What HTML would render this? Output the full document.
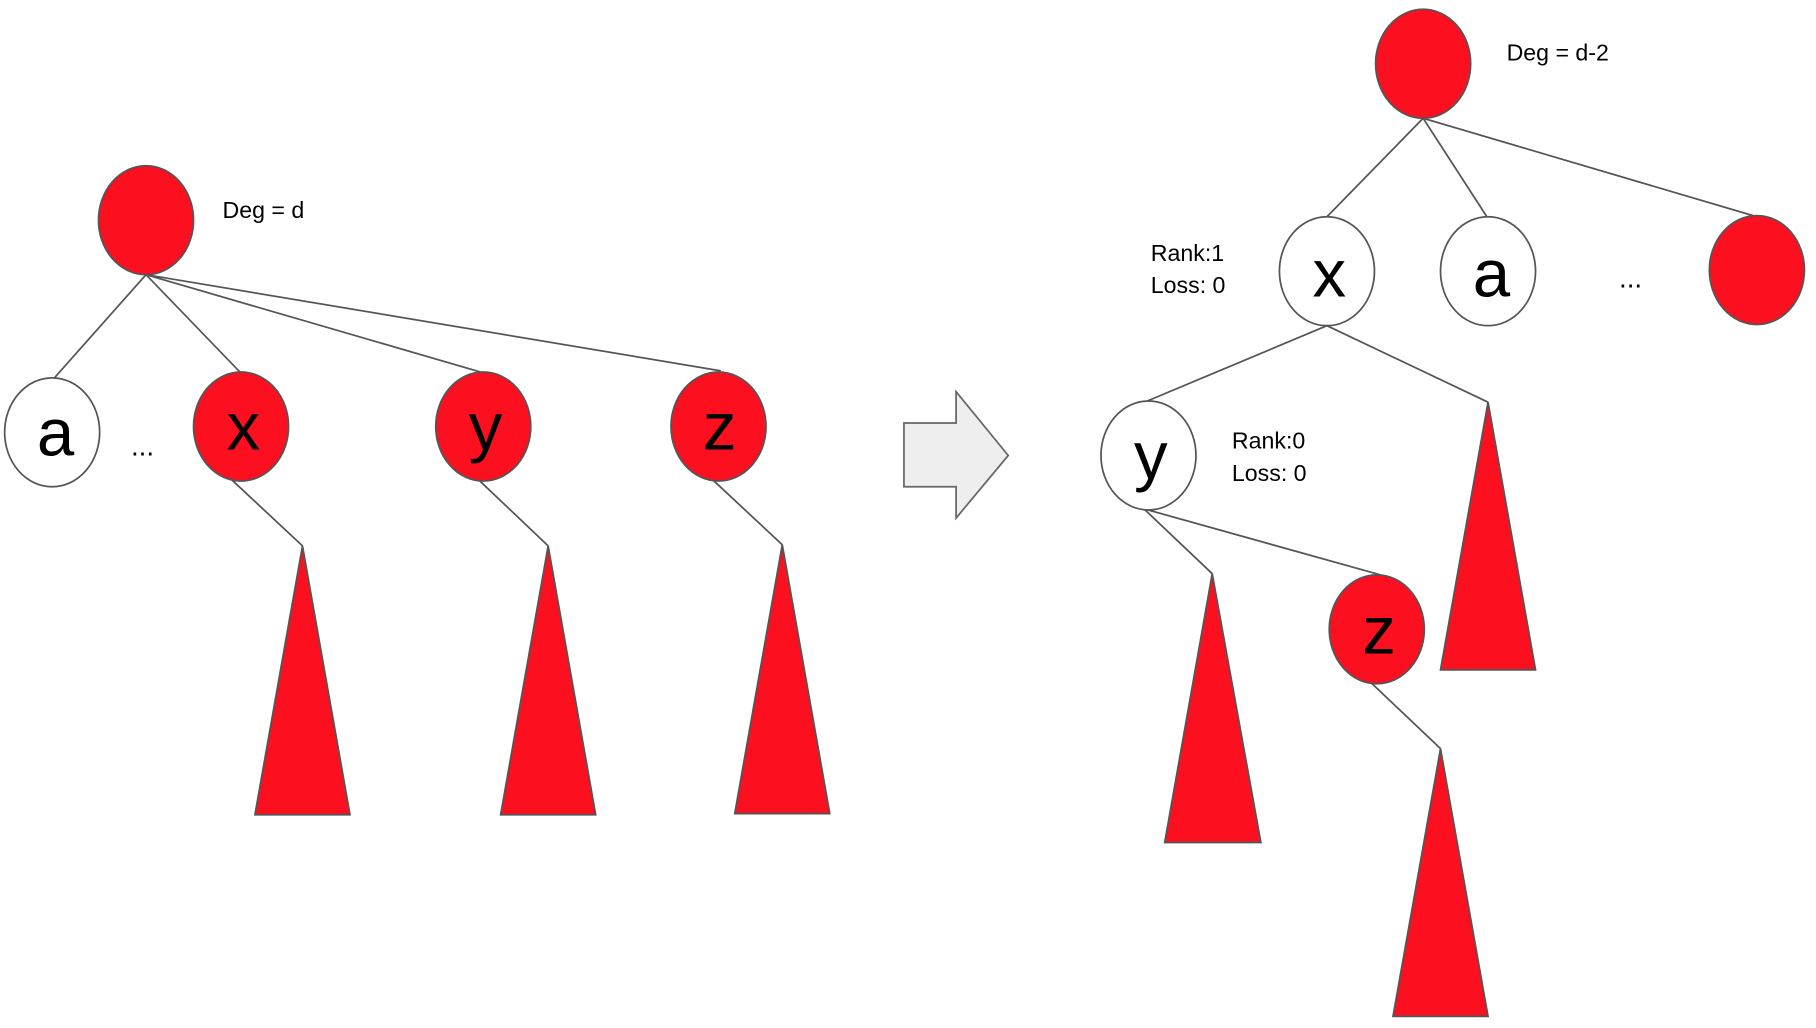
<!DOCTYPE html>
<html><head><meta charset="utf-8"><style>
html,body{margin:0;padding:0;background:#fff;}
svg{display:block;}
text{font-family:"Liberation Sans",Arial,sans-serif;fill:#000;}
</style></head><body>
<svg width="1816" height="1028" viewBox="0 0 1567 887" xmlns="http://www.w3.org/2000/svg">
<g stroke="#555" stroke-width="1.5" fill="none">
<line x1="126" y1="237" x2="47" y2="326"/>
<line x1="126" y1="237" x2="208" y2="322"/>
<line x1="126" y1="237" x2="418" y2="322"/>
<line x1="126" y1="237" x2="622" y2="320"/>
<line x1="200" y1="414" x2="261" y2="471"/>
<line x1="413" y1="414" x2="473" y2="471"/>
<line x1="615" y1="414" x2="675" y2="470"/>
<line x1="1228" y1="102" x2="1145" y2="187"/>
<line x1="1228" y1="102" x2="1283" y2="187"/>
<line x1="1228" y1="102" x2="1516" y2="187"/>
<line x1="1145" y1="281" x2="990" y2="346"/>
<line x1="1145" y1="281" x2="1284" y2="347"/>
<line x1="987" y1="439" x2="1046" y2="495"/>
<line x1="987" y1="439" x2="1191" y2="496"/>
<line x1="1183" y1="589" x2="1243" y2="646"/>
</g>
<g fill="#fc0f1f" stroke="#555" stroke-width="1.5">
<polygon points="261,471 302,703 220,703"/>
<polygon points="473,471 514,703 432,703"/>
<polygon points="675,470 716,702 634,702"/>
<polygon points="1284,347 1325,578 1243,578"/>
<polygon points="1046,495 1088,727 1005,727"/>
<polygon points="1243,646 1284,877 1202,877"/>
<ellipse cx="126" cy="190" rx="41" ry="47"/>
<ellipse cx="208" cy="368" rx="41" ry="47"/>
<ellipse cx="417" cy="368" rx="41" ry="47"/>
<ellipse cx="620" cy="368" rx="41" ry="47"/>
<ellipse cx="1228" cy="55" rx="41" ry="47"/>
<ellipse cx="1516" cy="233" rx="41" ry="47"/>
<ellipse cx="1188" cy="543" rx="41" ry="47"/>
</g>
<g fill="#fff" stroke="#555" stroke-width="1.5">
<ellipse cx="45" cy="373" rx="41" ry="47"/>
<ellipse cx="1145" cy="234" rx="41" ry="47"/>
<ellipse cx="1284" cy="234" rx="41" ry="47"/>
<ellipse cx="991" cy="393" rx="41" ry="47"/>
</g>
<polygon points="780,365 825,365 825,338 870,393 825,447 825,420 780,420" fill="#eeeeee" stroke="#666" stroke-width="1.5"/>
<g font-size="58" text-anchor="middle">
<text x="48" y="393">a</text>
<text x="210" y="388">x</text>
<text x="419" y="388">y</text>
<text x="621" y="388">z</text>
<text x="1147" y="256">x</text>
<text x="1287" y="256">a</text>
<text x="993" y="413">y</text>
<text x="1190" y="564">z</text>
</g>
<g font-size="20">
<text x="113" y="393" font-size="24">...</text>
<text x="1397" y="248" font-size="24">...</text>
<text x="192" y="188">Deg = d</text>
<text x="1300" y="52">Deg = d-2</text>
<text x="993" y="225">Rank:1</text>
<text x="993" y="253">Loss: 0</text>
<text x="1063" y="387">Rank:0</text>
<text x="1063" y="415">Loss: 0</text>
</g>
</svg>
</body></html>
